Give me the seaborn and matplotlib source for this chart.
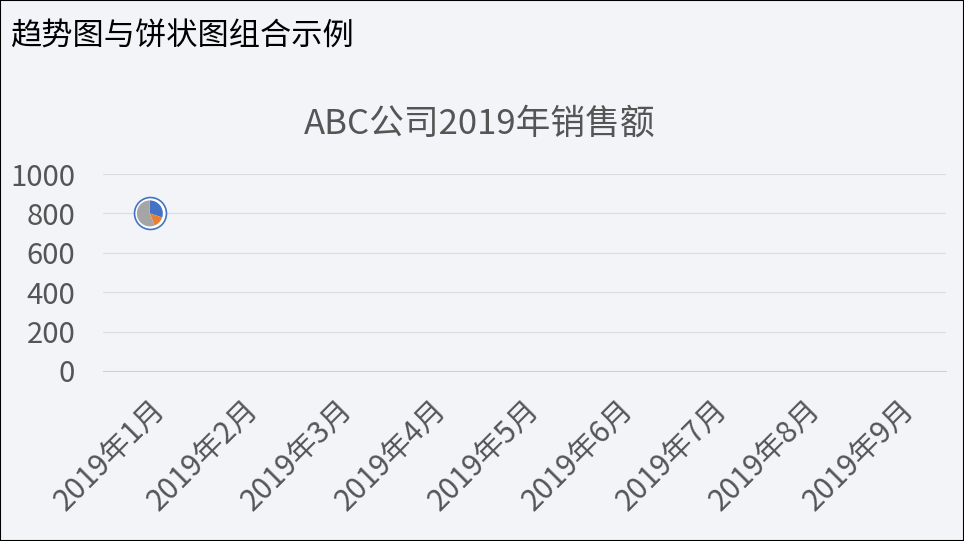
import matplotlib
matplotlib.use("Agg")
import matplotlib.pyplot as plt
import seaborn as sns
import numpy as np
import pandas as pd

months = ["2019年1月", "2019年2月", "2019年3月", "2019年4月", "2019年5月",
          "2019年6月", "2019年7月", "2019年8月", "2019年9月"]
trend_months = ["2019年1月"]
trend_sales = [800]
pie_parts = [30, 14, 56]
pie_colors = ["#4472c4", "#ed7d31", "#a5a5a5"]
y_ticks = [0, 200, 400, 600, 800, 1000]

sns.set_theme(style="white")
plt.rcParams["font.family"] = ["Noto Sans CJK SC", "DejaVu Sans"]

bg = "#f2f4f7"
fig = plt.figure(figsize=(9.64, 5.41), dpi=100, facecolor=bg)
fig.patches.append(plt.Rectangle((0, 0), 1, 1, transform=fig.transFigure,
                                 fill=False, edgecolor="black", linewidth=1.5))
ax = fig.add_axes([103 / 964, 1 - 371 / 541, (946 - 103) / 964, (371 - 174) / 541])
ax.set_facecolor(bg)

# trend line (one point so far), drawn as a ring behind the pie
df = pd.DataFrame({"month": trend_months, "sales": trend_sales})
sns.pointplot(data=df, x="month", y="sales", order=months, errorbar=None,
              color="#4472c4", marker="o", markersize=23, markerfacecolor="white",
              markeredgecolor="#4472c4", markeredgewidth=1.2, ax=ax, zorder=3)

ax.set_ylim(0, 1000)
ax.set_xlim(-0.5, len(months) - 0.5)
ax.set_yticks(y_ticks)
ax.grid(axis="y", color="#dcdcdc", linewidth=0.8)
ax.grid(axis="x", visible=False)
for s in ["top", "right", "left"]:
    ax.spines[s].set_visible(False)
ax.spines["bottom"].set_color("#d0d0d0")
ax.spines["bottom"].set_linewidth(0.8)

ax.set_xticks(range(len(months)))
ax.set_xticklabels(months, rotation=45, ha="right", va="top",
                   rotation_mode="anchor", fontsize=21.5, color="#555555")
ax.set_xticks(np.arange(-0.5, len(months) - 0.5 + 1e-9, 1), minor=True)
ax.tick_params(axis="x", which="major", length=0, pad=17)
ax.tick_params(axis="x", which="minor", length=8, color="#d0d0d0", width=0.8)
ax.tick_params(axis="y", length=0, labelsize=21, labelcolor="#555555", pad=20)
ax.set_xlabel("")
ax.set_ylabel("")

# pie placed at the trend point
fig.canvas.draw()
for m, v in zip(trend_months, trend_sales):
    px, py = ax.transData.transform((months.index(m), v))
    fx, fy = fig.transFigure.inverted().transform((px, py))
    r = 13
    pax = fig.add_axes([fx - r / 964, fy - r / 541, 2 * r / 964, 2 * r / 541])
    pax.pie(pie_parts, colors=pie_colors, startangle=90, counterclock=False,
            radius=1.25, wedgeprops={"linewidth": 0})
    pax.set_aspect("equal")
    pax.axis("off")

fig.text(10 / 964, 1 - 37 / 541, "趋势图与饼状图组合示例", fontsize=22.5,
         color="black", ha="left", va="center")
fig.text(480 / 964, 1 - 124 / 541, "ABC公司2019年销售额", fontsize=25,
         color="#555555", ha="center", va="center")

fig.savefig("out.png", dpi=100, facecolor=bg)
